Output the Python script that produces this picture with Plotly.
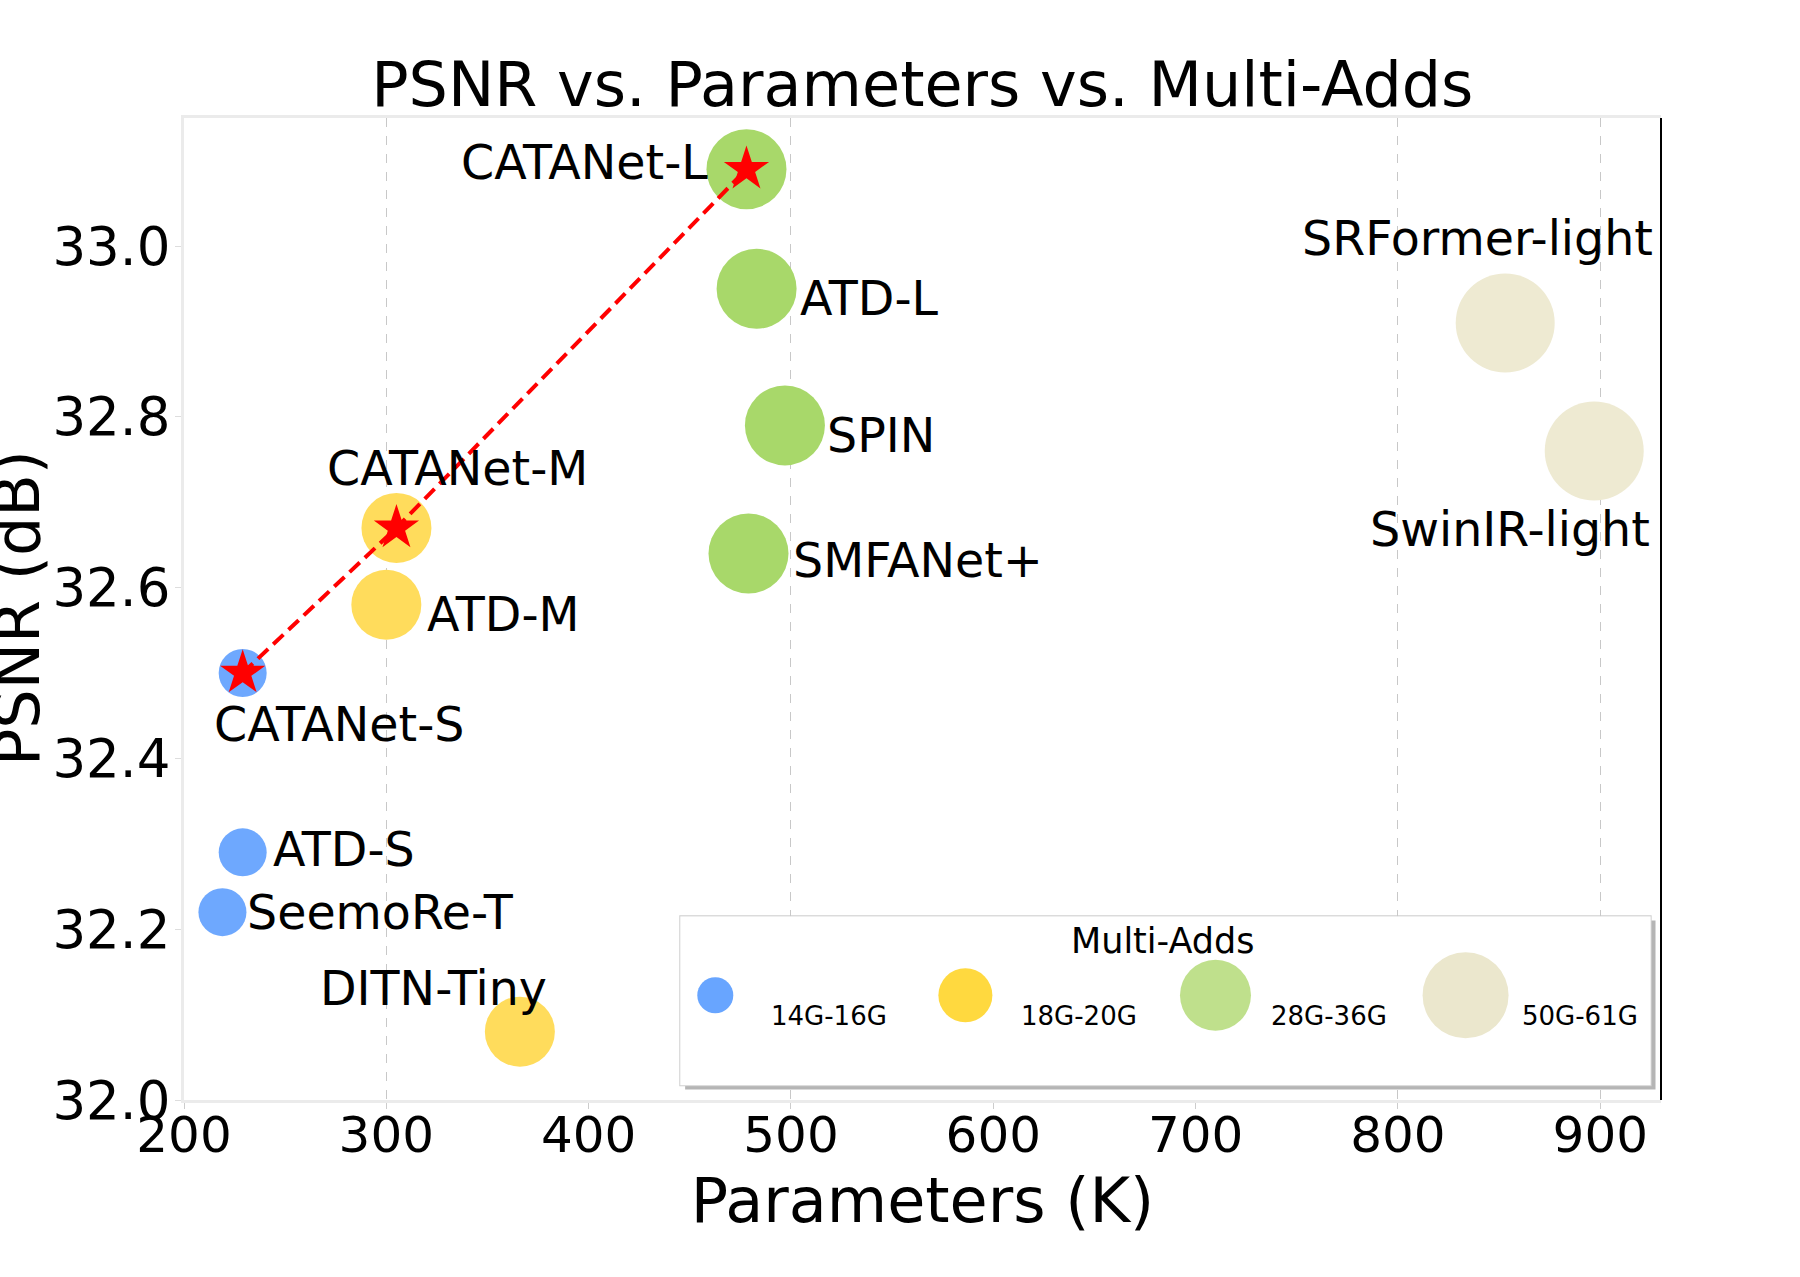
import plotly.graph_objects as go

# ---------------- data ----------------
models = ["CATANet-S", "ATD-S", "SeemoRe-T", "CATANet-M", "ATD-M", "DITN-Tiny",
          "CATANet-L", "ATD-L", "SPIN", "SMFANet+", "SRFormer-light", "SwinIR-light"]
params = [229, 229, 219, 305, 300, 366, 478, 483, 497, 479, 853, 897]
psnr = [32.50, 32.29, 32.22, 32.67, 32.58, 32.08, 33.09, 32.95, 32.79, 32.64, 32.91, 32.76]
group = [0, 0, 0, 1, 1, 1, 2, 2, 2, 2, 3, 3]

group_labels = ["14G-16G", "18G-20G", "28G-36G", "50G-61G"]
ours = ["CATANet-S", "CATANet-M", "CATANet-L"]

x_ticks = [200, 300, 400, 500, 600, 700, 800, 900]
y_ticks = [32.0, 32.2, 32.4, 32.6, 32.8, 33.0]
grid_x = [300, 500, 800, 900]

# ---------------- styles ----------------
group_colors = ["#6ea8fe", "#ffdc5c", "#a8d86a", "#eeead2"]
legend_colors = ["#68a5ff", "#ffd93f", "#bfe08c", "#ebe7cd"]
marker_sizes = [48, 70, 80, 99]
legend_sizes = [36, 54, 71, 86]
FONT = "DejaVu Sans"

# label placement: (xanchor, xshift px, yshift px)
label_pos = {
    "CATANet-L": ("right", -36, 7),
    "ATD-L": ("left", 41, -10),
    "SPIN": ("left", 40, -10),
    "SMFANet+": ("left", 42, -7),
    "CATANet-M": ("left", -71, 59),
    "ATD-M": ("left", 39, -10),
    "CATANet-S": ("left", -31, -51),
    "ATD-S": ("left", 28, 3),
    "SeemoRe-T": ("left", 23, 0),
    "DITN-Tiny": ("left", -202, 43),
    "SRFormer-light": ("right", 150, 84),
    "SwinIR-light": ("right", 58, -78),
}

fig = go.Figure()

# bubbles
for g in range(len(group_labels)):
    xs = [p for p, gg in zip(params, group) if gg == g]
    ys = [v for v, gg in zip(psnr, group) if gg == g]
    fig.add_trace(go.Scatter(
        x=xs, y=ys, mode="markers",
        marker=dict(size=marker_sizes[g], color=group_colors[g], opacity=1, line=dict(width=0)),
        showlegend=False, hoverinfo="skip"))

# ours: dashed line + stars
ox = [params[models.index(m)] for m in ours]
oy = [psnr[models.index(m)] for m in ours]
fig.add_trace(go.Scatter(
    x=ox, y=oy, mode="lines+markers",
    line=dict(color="#ff0000", width=4, dash="14px,7px"),
    marker=dict(symbol="star", size=34, color="#ff0000", opacity=1, line=dict(width=0)),
    showlegend=False, hoverinfo="skip"))

# grid-only overlay axis
fig.add_trace(go.Scatter(x=[grid_x[0]], y=[y_ticks[0]], xaxis="x3", mode="markers",
                         marker=dict(opacity=0), showlegend=False, hoverinfo="skip"))

# custom legend (own subplot)
leg_y = 0.533
fig.add_trace(go.Scatter(
    x=list(range(len(group_labels))), y=[leg_y] * len(group_labels),
    xaxis="x2", yaxis="y2", mode="markers",
    marker=dict(size=legend_sizes, color=legend_colors, opacity=1, line=dict(width=0)),
    showlegend=False, hoverinfo="skip"))

annotations = []
for m, px, py in zip(models, params, psnr):
    xa, xs, ys = label_pos[m]
    annotations.append(dict(x=px, y=py, xref="x", yref="y", text=m, showarrow=False,
                            xanchor=xa, yanchor="middle", xshift=xs, yshift=ys,
                            font=dict(family=FONT, size=47.5, color="black")))
for i, lab in enumerate(group_labels):
    annotations.append(dict(x=i, y=leg_y, xref="x2", yref="y2", text=lab, showarrow=False,
                            xanchor="left", yanchor="middle", xshift=54, yshift=-21,
                            font=dict(family=FONT, size=26, color="black")))
annotations.append(dict(x=0.497, y=0.852, xref="x2 domain", yref="y2 domain", text="Multi-Adds",
                        showarrow=False, xanchor="center", yanchor="middle",
                        font=dict(family=FONT, size=35, color="black")))
# y-axis title (placed like the reference, partly past the left edge)
annotations.append(dict(x=-0.113, y=0.501, xref="paper", yref="paper", text="PSNR (dB)",
                        showarrow=False, textangle=-90, xanchor="center", yanchor="middle",
                        font=dict(family=FONT, size=62, color="black")))

shapes = [
    # legend shadow
    dict(type="rect", xref="x2 domain", yref="y2 domain", x0=0.005, x1=1.005, y0=-0.025, y1=0.975,
         fillcolor="#b5b5b5", line=dict(width=0), layer="below"),
    # legend box
    dict(type="rect", xref="x2 domain", yref="y2 domain", x0=0, x1=1, y0=0, y1=1,
         fillcolor="white", line=dict(color="#d0d0d0", width=2), layer="below"),
    # right spine (black)
    dict(type="line", xref="x domain", yref="y domain", x0=1, x1=1, y0=0, y1=1,
         line=dict(color="black", width=2)),
]

x_range = [200, 930]
y_range = [32.0, 33.15]

fig.update_layout(
    width=1800, height=1277,
    margin=dict(l=184, r=139, t=118, b=177),
    paper_bgcolor="white", plot_bgcolor="white",
    font=dict(family=FONT, color="black"),
    title=dict(text="PSNR vs. Parameters vs. Multi-Adds", x=0.5124, xref="container",
               xanchor="center", y=1 - 84 / 1277, yref="container", yanchor="middle",
               font=dict(family=FONT, size=62, color="black")),
    xaxis=dict(range=x_range, tickvals=x_ticks, ticktext=[str(v) for v in x_ticks],
               automargin=False,
               showgrid=False, zeroline=False, showline=True, linecolor="#ebebeb", linewidth=3,
               mirror=True, ticks="outside", ticklen=6, tickcolor="#cccccc",
               ticklabelstandoff=-17,
               tickfont=dict(family=FONT, size=50, color="black"),
               title=dict(text="Parameters (K)", standoff=0,
                          font=dict(family=FONT, size=62, color="black"))),
    yaxis=dict(range=y_range, tickvals=y_ticks, ticktext=[f"{v:.1f}" for v in y_ticks],
               automargin=False,
               showgrid=False, zeroline=False, showline=True, linecolor="#ebebeb", linewidth=3,
               ticks="outside", ticklen=6, tickcolor="#dddddd",
               ticklabelstandoff=-6,
               tickfont=dict(family=FONT, size=53, color="black")),
    xaxis3=dict(range=x_range, overlaying="x", tickvals=grid_x, showgrid=True, automargin=False,
                gridcolor="#c8c8c8", gridwidth=1, griddash="dash", showticklabels=False,
                ticks="", zeroline=False, showline=False),
    xaxis2=dict(domain=[0.336, 0.993], anchor="y2", range=[-0.14, 3.74], visible=False),
    yaxis2=dict(domain=[0.015, 0.187], anchor="x2", range=[0, 1], visible=False),
    annotations=annotations,
    shapes=shapes,
)

fig.write_html("out.html")
